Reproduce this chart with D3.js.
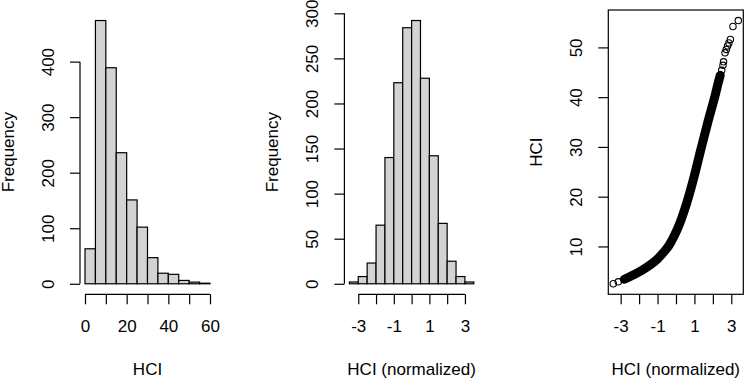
<!DOCTYPE html>
<html>
<head>
<meta charset="utf-8">
<style>
  body { margin: 0; background: #fff; }
  svg text { font-family: "Liberation Sans", Arial, sans-serif; }
</style>
</head>
<body>
<div id="chart"></div>
<script src="https://cdn.jsdelivr.net/npm/d3@7"></script>
<script>
// panel 1: raw HCI histogram
var hciBreaks = [0, 5, 10, 15, 20, 25, 30, 35, 40, 45, 50, 55, 60];
var hciCounts = [63, 474, 389, 236, 151, 102, 47, 19, 17, 6, 3, 1];
var hciTicksX = [0, 10, 20, 30, 40, 50, 60];
var hciTicksY = [0, 100, 200, 300, 400];

// panel 2: normalized HCI histogram
var normBreaks = [-3.5, -3, -2.5, -2, -1.5, -1, -0.5, 0, 0.5, 1, 1.5, 2, 2.5, 3, 3.5];
var normCounts = [2, 8, 23, 65, 140, 223, 284, 292, 228, 142, 67, 25, 8, 2];
var normTicksX = [-3, -2, -1, 0, 1, 2, 3];
var normTicksY = [0, 50, 100, 150, 200, 250, 300];

// panel 3: HCI against normalized HCI
var qqNorm = [-3.40, -3.13, -2.80, -2.30, -1.85, -1.40, -1.00, -0.70, -0.40, -0.10, 0.20, 0.45, 0.70,
              1.00, 1.37, 1.75, 2.10, 2.30, 2.40, 2.48, 2.55, 2.58, 2.66, 2.73, 2.80, 2.87, 2.95, 3.09, 3.38];
var qqHci  = [2.5, 2.9, 3.4, 4.3, 5.2, 6.3, 7.5, 8.7, 10.1, 12.1, 14.6, 17.2, 20.2,
              24.3, 29.8, 35.3, 40.0, 43.0, 44.4, 45.4, 46.4, 47.1, 48.9, 49.6, 50.3, 50.9, 51.6, 54.2, 55.4];
var qqDense = [2, 18];   // index range where circles pile up into a solid band
var qqTicksX = [-3, -2, -1, 0, 1, 2, 3];
var qqTicksY = [10, 20, 30, 40, 50];

var W = 750, H = 381;
var plotTop = 10, plotBottom = 294.3;
var fs = 17, lw = 1.2;

var svg = d3.select("#chart").append("svg")
    .attr("width", W).attr("height", H);

// R style range: data range padded by 4% each side
function pad(lo, hi) { var e = (hi - lo) * 0.04; return [lo - e, hi + e]; }

// R drops labels that would overlap, so only every other tick gets one
function oddLabel(d) { return Math.abs(d) % 2 == 1 ? String(d) : ""; }
function evenLabel(d) { return d % 20 == 0 ? String(d) : ""; }

function bottomAxis(x, ticks, fmt) {
    var g = svg.append("g").attr("transform", "translate(0," + plotBottom + ")")
        .call(d3.axisBottom(x).tickValues(ticks).tickSize(10).tickSizeOuter(0).tickFormat(fmt));
    g.attr("font-size", fs).attr("font-family", null);
    g.select(".domain").attr("d", "M" + x(ticks[0]) + ",0H" + x(ticks[ticks.length - 1]));
    g.selectAll("path, line").attr("stroke", "#000").attr("stroke-width", lw);
    g.selectAll("text").attr("y", 37.5).attr("dy", null).attr("fill", "#000");
    return g;
}

function leftAxis(y, ticks, x0, drawLine) {
    var g = svg.append("g").attr("transform", "translate(" + x0 + ",0)")
        .call(d3.axisLeft(y).tickValues(ticks).tickSize(10).tickSizeOuter(0));
    g.attr("font-size", fs).attr("font-family", null);
    if (drawLine) g.select(".domain").attr("d", "M0," + y(ticks[0]) + "V" + y(ticks[ticks.length - 1]));
    else g.select(".domain").remove();
    g.selectAll("path, line").attr("stroke", "#000").attr("stroke-width", lw);
    g.selectAll("text").attr("x", 0).attr("dy", null)
        .attr("text-anchor", "middle")
        .attr("transform", "translate(-26,0) rotate(-90)")
        .attr("fill", "#000");
    return g;
}

function titles(xl, xr, x0, xt, yt) {
    svg.append("text").attr("x", (xl + xr) / 2).attr("y", plotBottom + 80.5)
        .attr("text-anchor", "middle").attr("font-size", fs).text(xt);
    svg.append("text")
        .attr("transform", "translate(" + (x0 - 66) + "," + ((plotTop + plotBottom) / 2) + ") rotate(-90)")
        .attr("text-anchor", "middle").attr("font-size", fs).text(yt);
}

function histogram(breaks, counts, xl, xr, xTicks, yTicks, fmt, xt) {
    var x = d3.scaleLinear().domain(pad(breaks[0], breaks[breaks.length - 1])).range([xl, xr]);
    var y = d3.scaleLinear().domain(pad(0, d3.max(counts))).range([plotBottom, plotTop]);
    var bins = counts.map(function(c, i) { return {x0: breaks[i], x1: breaks[i + 1], n: c}; });

    svg.append("g").selectAll("rect")
        .data(bins).enter().append("rect")
        .attr("x", function(d) { return x(d.x0); })
        .attr("width", function(d) { return x(d.x1) - x(d.x0); })
        .attr("y", function(d) { return y(d.n); })
        .attr("height", function(d) { return y(0) - y(d.n); })
        .attr("fill", "#d3d3d3").attr("stroke", "#000").attr("stroke-width", lw);

    bottomAxis(x, xTicks, fmt);
    leftAxis(y, yTicks, xl, true);
    titles(xl, xr, xl, xt, "Frequency");
}

histogram(hciBreaks, hciCounts, 80, 215, hciTicksX, hciTicksY, evenLabel, "HCI");
histogram(normBreaks, normCounts, 344.4, 478.8, normTicksX, normTicksY, oddLabel, "HCI (normalized)");

//// panel 3
var p3l = 608.3, p3r = 743.3;
var xq = d3.scaleLinear().domain(pad(d3.min(qqNorm), d3.max(qqNorm))).range([p3l, p3r]);
var yq = d3.scaleLinear().domain(pad(d3.min(qqHci), d3.max(qqHci))).range([plotBottom, plotTop]);
var pts = qqNorm.map(function(v, i) { return {x: v, y: qqHci[i]}; });

// where the points overlap heavily they merge into a black band
svg.append("path")
    .datum(pts.slice(qqDense[0], qqDense[1] + 1))
    .attr("fill", "none").attr("stroke", "#000")
    .attr("stroke-width", 9).attr("stroke-linecap", "round").attr("stroke-linejoin", "round")
    .attr("d", d3.line().x(function(d) { return xq(d.x); }).y(function(d) { return yq(d.y); }).curve(d3.curveMonotoneX));

svg.append("g").selectAll("circle")
    .data(pts).enter().append("circle")
    .attr("cx", function(d) { return xq(d.x); })
    .attr("cy", function(d) { return yq(d.y); })
    .attr("r", 3.2)
    .attr("fill", "none").attr("stroke", "#000").attr("stroke-width", 1.1);

svg.append("rect")
    .attr("x", p3l).attr("y", plotTop).attr("width", p3r - p3l).attr("height", plotBottom - plotTop)
    .attr("fill", "none").attr("stroke", "#000").attr("stroke-width", lw);

bottomAxis(xq, qqTicksX, oddLabel).select(".domain").remove();
leftAxis(yq, qqTicksY, p3l, false);
titles(p3l, p3r, p3l, "HCI (normalized)", "HCI");
</script>
</body>
</html>
